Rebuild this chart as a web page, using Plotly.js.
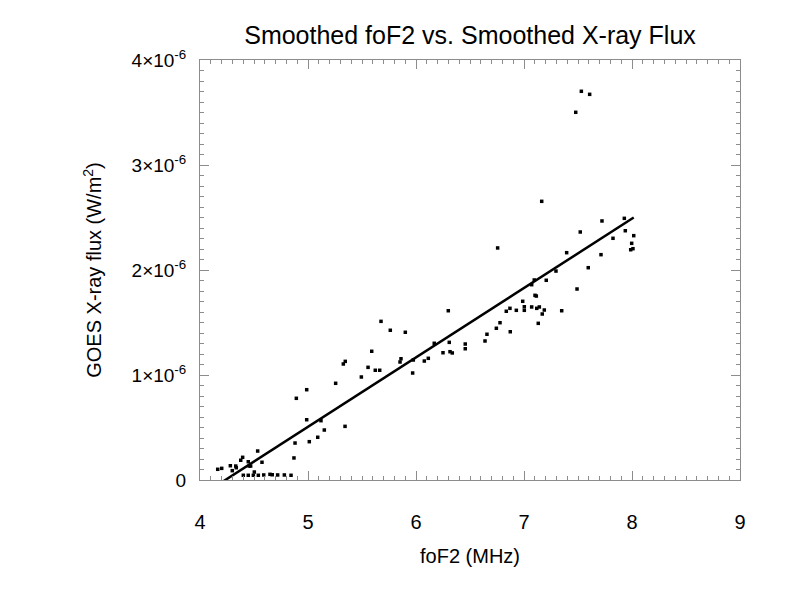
<!DOCTYPE html>
<html>
<head>
<meta charset="utf-8">
<script src="https://cdn.plot.ly/plotly-3.0.1.min.js"></script>
<style>html,body{margin:0;padding:0;background:#fff;}#chart{width:800px;height:600px;}</style>
</head>
<body>
<div id="chart"></div>
<script>
// foF2 (MHz)
var foF2 = [4.164,4.201,4.281,4.299,4.331,4.336,4.377,4.395,4.401,4.447,4.447,4.456,4.469,4.494,4.503,4.534,4.540,4.574,4.590,4.648,
4.669,4.719,4.781,4.843,4.870,4.880,4.892,4.988,4.988,5.012,5.090,5.120,5.151,5.256,5.343,5.327,5.345,5.494,5.556,5.590,
5.623,5.664,5.676,5.762,5.852,5.861,5.901,5.969,5.975,6.077,6.114,6.169,6.250,6.299,6.308,6.315,6.336,6.456,6.456,6.639,
6.657,6.744,6.778,6.756,6.836,6.873,6.870,6.929,6.988,7.003,7.003,7.071,7.095,7.102,7.114,7.071,7.118,7.142,7.188,7.169,
7.132,7.164,7.206,7.296,7.349,7.395,7.491,7.521,7.595,7.713,7.722,7.824,7.929,7.938,8.016,7.997,7.988,8.009,7.531,7.608,7.479];
// GOES X-ray flux, in units of 1e-6 W/m^2
var flux = [0.102,0.111,0.136,0.089,0.133,0.117,0.188,0.216,0.045,0.174,0.045,0.133,0.133,0.045,0.076,0.276,0.045,0.169,0.048,0.054,
0.050,0.048,0.048,0.045,0.210,0.352,0.778,0.860,0.574,0.365,0.407,0.565,0.476,0.921,0.511,1.105,1.130,0.981,1.073,1.226,
1.045,1.045,1.511,1.426,1.124,1.155,1.407,1.019,1.143,1.133,1.159,1.302,1.212,1.612,1.311,1.222,1.210,1.295,1.250,1.324,
1.388,1.445,1.498,2.210,1.607,1.412,1.635,1.616,1.702,1.650,1.616,1.860,1.905,1.759,1.752,1.648,1.635,1.648,1.619,1.581,
1.492,2.654,1.902,1.990,1.612,2.165,1.819,2.362,2.022,2.146,2.467,2.302,2.492,2.374,2.327,2.254,2.193,2.203,3.702,3.673,3.502];
// linear fit coefficients (flux in 1e-6 units vs foF2)
var fitSlope = 0.661;
var fitIntercept = -2.799;
var xTicks = [4,5,6,7,8,9];
var yTicks = [0,1,2,3,4];
var yTickText = ['0','1×10<sup>-6</sup>','2×10<sup>-6</sup>','3×10<sup>-6</sup>','4×10<sup>-6</sup>'];

var xmin = Math.min.apply(null, foF2), xmax = Math.max.apply(null, foF2);
var fitX = [xmin, xmax];
var fitY = fitX.map(function(v){ return fitIntercept + fitSlope * v; });

var axisCol = '#8c8c8c';
var font = 'Liberation Sans, Arial, sans-serif';

var traces = [
  {x: foF2, y: flux, type: 'scatter', mode: 'markers',
   marker: {symbol: 'square', size: 3.5, color: '#000', line: {width: 0}}, cliponaxis: true},
  {x: fitX, y: fitY, type: 'scatter', mode: 'lines', line: {color: '#000', width: 2.5}}
];

var layout = {
  width: 800, height: 600,
  margin: {l: 200, r: 60, t: 60, b: 120},
  paper_bgcolor: '#fff', plot_bgcolor: '#fff',
  showlegend: false,
  font: {family: font, color: '#000', size: 19},
  title: {text: 'Smoothed foF2 vs. Smoothed X-ray Flux', font: {size: 25, family: font, color: '#000'},
          xref: 'paper', x: 0.5, xanchor: 'center', yref: 'container', y: 1 - 35/600, yanchor: 'middle'},
  xaxis: {
    range: [4, 9], tickvals: xTicks, ticktext: xTicks.map(String),
    ticks: 'inside', ticklen: 9, tickwidth: 1, tickcolor: axisCol,
    showline: true, linecolor: axisCol, linewidth: 1, mirror: 'allticks',
    showgrid: false, zeroline: false,
    tickfont: {size: 20, family: font, color: '#000'},
    ticklabelstandoff: 24,
    minor: {dtick: 0.1, ticks: 'inside', ticklen: 4, tickcolor: axisCol, tickwidth: 1, showgrid: false},
    title: {text: 'foF2 (MHz)', font: {size: 20, family: font, color: '#000'}, standoff: 16}
  },
  yaxis: {
    range: [0, 4], tickvals: yTicks, ticktext: yTickText,
    ticks: 'inside', ticklen: 9, tickwidth: 1, tickcolor: axisCol,
    showline: true, linecolor: axisCol, linewidth: 1, mirror: 'allticks',
    showgrid: false, zeroline: false,
    tickfont: {size: 19, family: font, color: '#000'},
    ticklabelstandoff: 9,
    minor: {dtick: 0.1, ticks: 'inside', ticklen: 4, tickcolor: axisCol, tickwidth: 1, showgrid: false},
    title: {text: 'GOES X-ray flux (W/m<sup>2</sup>)', font: {size: 20, family: font, color: '#000'}, standoff: 24}
  }
};

Plotly.newPlot('chart', traces, layout, {staticPlot: true, displayModeBar: false});
</script>
</body>
</html>
